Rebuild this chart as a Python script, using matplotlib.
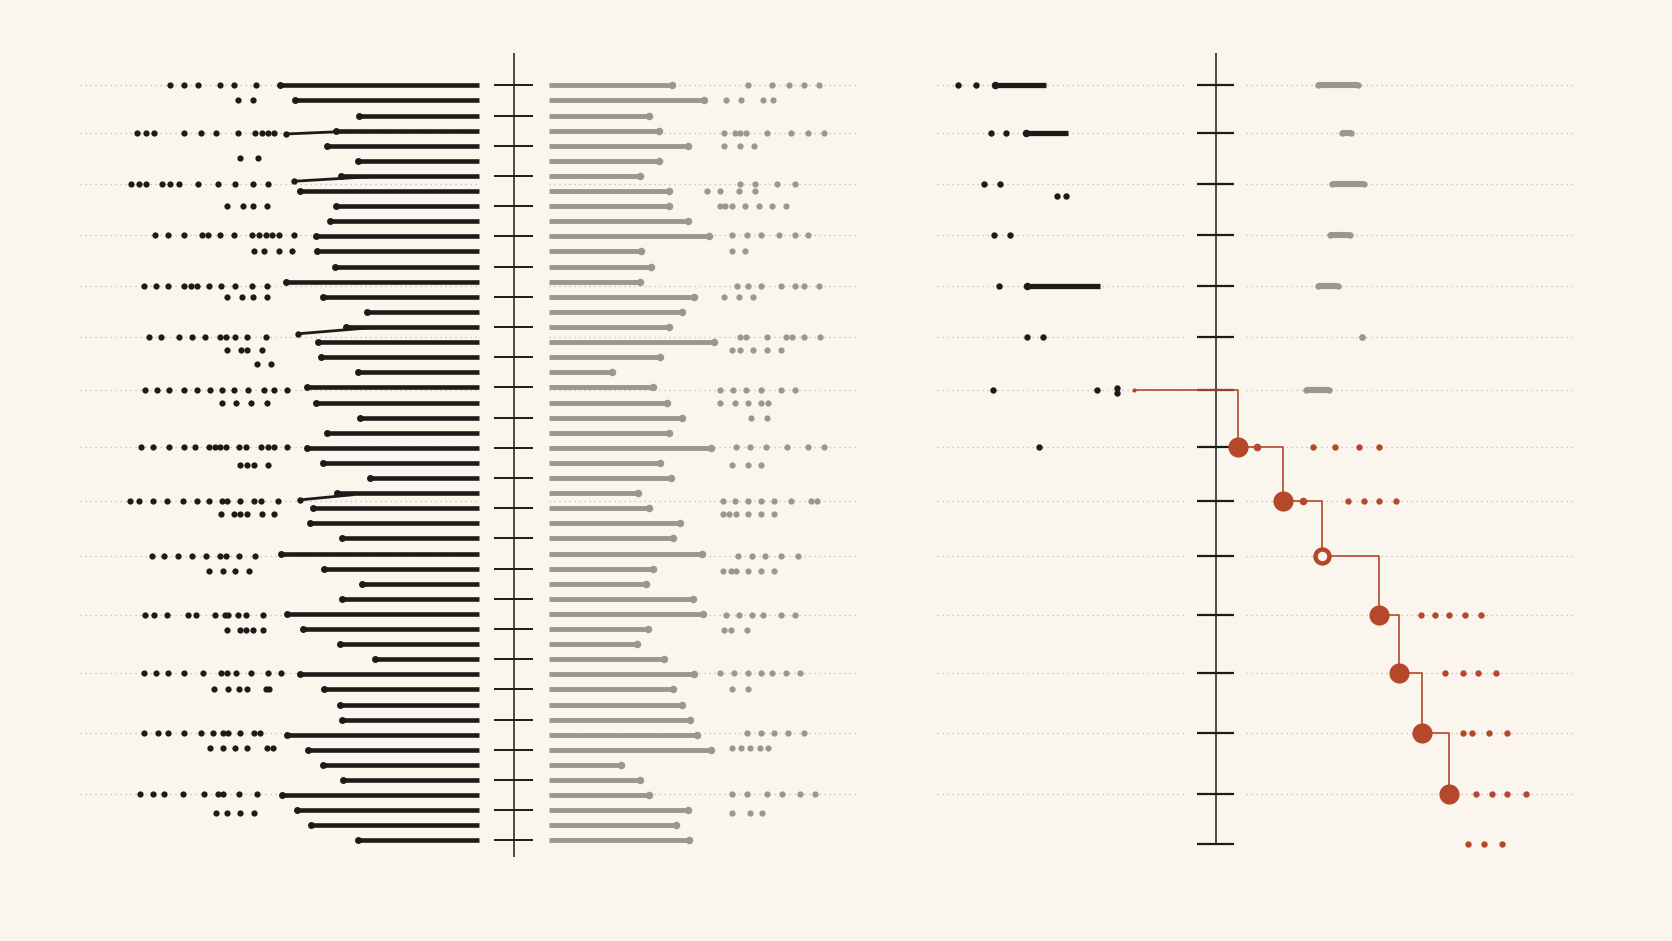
import numpy as np
import matplotlib
matplotlib.use("Agg")
import matplotlib.pyplot as plt

# ---------------- colours ----------------
BG = "#FAF6EE"
INK = "#1B1B19"
GREY = "#9A978F"
GRID = "#BDB9B0"
RUST = "#B5472B"

# ---------------- data: left panel ----------------
# 51 paired rows: length of the dark (left) bar and of the grey (right) bar
black_len = [219.2, 205.5, 145.7, 167.2, 175.6, 146.1, 162.3, 201.1, 167.2, 172.1,
             185.4, 184.4, 168.2, 213.8, 179.5, 137.8, 157.4, 183.9, 180.5, 146.1,
             193.7, 185.4, 144.7, 175.6, 193.7, 179.5, 134.9, 165.8, 188.8, 191.3,
             160.9, 218.7, 178.0, 142.7, 160.9, 212.4, 197.7, 162.8, 130.4, 201.1,
             178.0, 163.3, 160.9, 212.4, 192.7, 179.5, 159.9, 217.7, 203.1, 190.3,
             146.1]
gray_len = [148.2, 178.6, 126.6, 135.9, 162.9, 135.9, 117.8, 145.7, 145.7, 162.9,
            182.5, 118.7, 128.5, 117.8, 168.8, 158.0, 145.7, 187.4, 136.9, 91.7,
            130.0, 143.3, 158.0, 145.7, 184.9, 137.4, 147.2, 116.3, 127.1, 156.0,
            149.2, 176.6, 130.0, 123.6, 167.8, 177.6, 126.1, 115.8, 140.8, 168.8,
            149.2, 158.0, 165.3, 171.7, 184.9, 100.6, 117.8, 127.1, 162.9, 151.6,
            163.9]

# 14 group levels (shared by both panels) + bottom level of the right panel
group_y = [0.0, 3.17, 6.5, 9.89, 13.3, 16.68, 20.18, 23.97, 27.5, 31.18,
           35.05, 38.94, 42.88, 46.93]
bottom_y = 50.26

# dark dot clusters on each group level (distance left of centre)
black_dots = [
    [322.7, 309.5, 296.7, 276.1, 262.4, 242.3],
    [353.1, 344.8, 337.4, 309.0, 293.3, 279.5, 258.4, 243.2, 236.4, 230.5, 224.6],
    [359.5, 352.1, 344.8, 330.1, 322.7, 313.9, 296.7, 277.6, 261.9, 245.2, 231.0],
    [336.4, 324.7, 309.5, 292.3, 287.4, 275.6, 262.4, 245.7, 239.3, 232.9, 227.0, 220.7, 206.0],
    [347.2, 335.9, 324.7, 309.0, 303.1, 297.2, 285.9, 274.6, 261.9, 245.7, 231.5],
    [342.3, 331.0, 314.4, 302.1, 289.8, 276.1, 269.7, 261.9, 250.1, 232.9],
    [346.2, 335.0, 323.7, 309.9, 297.2, 284.9, 273.6, 262.4, 249.1, 234.4, 224.6, 213.3],
    [349.7, 338.4, 323.2, 309.9, 299.2, 285.9, 280.5, 275.6, 269.7, 257.5, 251.6, 237.3, 231.0, 224.6, 213.3],
    [360.5, 352.1, 338.9, 325.1, 310.4, 297.2, 285.9, 273.6, 268.7, 256.5, 244.2, 236.9, 221.2],
    [339.9, 328.6, 315.3, 302.1, 288.4, 276.1, 269.7, 257.5, 242.7],
    [346.2, 337.4, 325.1, 305.5, 298.2, 280.5, 271.2, 267.8, 258.9, 251.6, 235.4],
    [347.2, 335.9, 324.7, 309.5, 291.8, 275.1, 268.7, 260.4, 246.7, 231.0, 218.7],
    [347.2, 334.0, 324.2, 309.5, 293.3, 282.0, 272.7, 267.8, 256.5, 244.2, 238.3],
    [351.1, 338.4, 328.6, 310.4, 290.8, 277.6, 272.7, 257.9, 240.8],
]
# secondary dark clusters: (level, distances)
black_sub = [
    (1.0, [258.4, 244.7]),
    (4.82, [256.5, 240.3]),
    (8.0, [269.2, 254.0, 245.2, 231.5]),
    (11.0, [244.2, 234.4, 220.7, 208.4]),
    (14.0, [269.2, 255.5, 244.7, 231.5]),
    (17.5, [269.2, 256.0, 250.1, 236.4]),
    (18.48, [241.3, 227.5]),
    (21.0, [273.6, 260.9, 246.2, 231.5]),
    (25.16, [256.5, 250.6, 244.2, 230.5]),
    (28.4, [274.6, 262.4, 256.5, 250.6, 236.4, 224.6]),
    (32.14, [285.9, 272.7, 261.4, 248.1]),
    (36.07, [268.7, 256.5, 251.6, 245.2, 235.4]),
    (40.0, [281.0, 267.8, 257.5, 250.6, 232.9, 229.5]),
    (43.86, [284.9, 272.7, 261.4, 250.6, 232.0, 225.6]),
    (48.2, [279.5, 268.7, 256.5, 244.2]),
]
# grey dot clusters on each group level (distance right of centre)
gray_dots = [
    [219.3, 242.4, 258.1, 271.8, 286.5],
    [197.2, 207.0, 212.0, 217.8, 237.5, 260.0, 275.7, 290.4],
    [212.0, 225.7, 246.3, 263.5],
    [204.6, 218.3, 231.6, 248.7, 263.5, 275.7],
    [209.5, 219.3, 231.6, 250.2, 263.5, 271.8, 286.5],
    [212.0, 217.8, 237.5, 255.1, 261.0, 271.8, 287.0],
    [193.3, 205.6, 217.8, 231.6, 250.2, 263.5],
    [208.5, 221.8, 236.5, 256.1, 275.7, 290.4],
    [196.3, 207.0, 219.3, 231.6, 243.8, 260.0, 278.2, 284.0],
    [210.5, 223.2, 235.5, 250.2, 265.9],
    [198.7, 211.0, 223.2, 234.0, 250.2, 263.5],
    [193.3, 206.1, 219.3, 231.6, 242.4, 255.1, 267.9],
    [218.3, 231.6, 243.8, 257.1, 272.3],
    [204.6, 218.3, 237.5, 251.2, 268.4, 282.1],
]
gray_sub = [
    (1.0, [198.7, 212.9, 234.0, 242.9]),
    (4.0, [197.2, 212.0, 225.2]),
    (7.0, [181.0, 193.3, 211.0, 225.7]),
    (8.0, [193.3, 198.2, 204.6, 216.9, 230.1, 242.4, 255.1]),
    (11.0, [204.6, 216.9]),
    (14.0, [197.2, 211.0, 224.2]),
    (17.5, [204.6, 212.0, 224.2, 237.5, 250.2]),
    (21.0, [193.3, 207.0, 219.3, 231.6, 237.9]),
    (22.0, [222.7, 237.5]),
    (25.16, [204.6, 219.3, 231.6]),
    (28.4, [196.3, 202.1, 208.0, 219.3, 231.6, 243.8]),
    (32.14, [196.3, 203.1, 208.0, 219.3, 231.6, 243.8]),
    (36.07, [197.2, 203.6, 218.3]),
    (40.0, [204.6, 219.3]),
    (43.86, [204.6, 212.9, 221.8, 230.6, 237.9]),
    (48.2, [204.6, 221.8, 233.0]),
]
# thin links from a cluster into a bar: (level from, dist from, level to, dist to)
links = [
    (3.22, 213.8, 3.05, 158.0),
    (6.35, 206.0, 6.05, 135.0),
    (16.45, 202.5, 16.05, 135.0),
    (27.45, 201.0, 27.1, 150.0),
]

# ---------------- data: right panel ----------------
# dark dots left of the axis: (group index, offset, positions)
rp_black_dots = [
    (0, 0.0, [-241.6, -224.8]),
    (1, 0.0, [-210.5, -196.3]),
    (2, 0.0, [-217.3, -201.8]),
    (2, 0.8, [-148.6, -140.2]),
    (3, 0.0, [-208.0, -192.5]),
    (4, 0.0, [-203.4]),
    (5, 0.0, [-177.1, -161.5]),
    (6, 0.0, [-208.8, -110.9]),
    (6, -0.15, [-92.1]),
    (6, 0.17, [-92.1]),
    (7, 0.0, [-165.3]),
]
rp_black_bars = [(0, -206.8, -158.6), (1, -177.5, -138.2), (4, -176.6, -108.8)]
rp_gray_bars = [(0, 96.3, 133.2), (1, 118.6, 126.9), (2, 109.3, 139.4),
                (3, 107.2, 126.1), (4, 96.0, 114.4), (5, 137.4, 137.4),
                (6, 85.1, 106.0)]
# highlighted staircase (group 6 .. 13)
step_group = [6, 7, 8, 9, 10, 11, 12, 13]
step_x = [-76.1, 21.0, 63.2, 100.1, 152.9, 172.2, 193.9, 219.0]
step_open = 9            # group with the hollow marker
satellites = [(7, 39.0), (8, 81.7)]
red_dots = [
    (7, [91.3, 112.3, 134.4, 153.3]),
    (8, [124.0, 138.7, 152.9, 169.6]),
    (10, [193.0, 205.6, 219.0, 233.6, 249.2]),
    (11, [214.8, 232.4, 246.2, 263.0]),
    (12, [232.4, 240.8, 256.7, 273.4]),
    (13, [244.1, 259.6, 273.4, 291.0]),
    (14, [236.6, 251.7, 268.4]),
]

# ---------------- figure ----------------
fig = plt.figure(figsize=(16.72, 9.41), dpi=100, facecolor=BG)
Y_TOP, Y_BOT = -5.651, 56.655
axL = fig.add_axes([0.0, 0.0, 1.0, 1.0])
axR = fig.add_axes([0.0, 0.0, 1.0, 1.0])
for ax in (axL, axR):
    ax.set_ylim(Y_BOT, Y_TOP)
    ax.axis("off")
    ax.patch.set_alpha(0)
axL.set_xlim(-482, 1086)
axR.set_xlim(-1140, 428)

DOT = (0, (1, 3))
GAP = 33
MS = 4.5

# ----- left panel -----
rows = np.arange(len(black_len))
bl = np.array(black_len)
gl = np.array(gray_len)
axL.hlines(group_y, -407, -GAP, colors=GRID, linewidth=0.9, linestyles=DOT, zorder=1)
axL.hlines(group_y, GAP, 323, colors=GRID, linewidth=0.9, linestyles=DOT, zorder=1)

axL.vlines(0, -2.12, 51.07, colors=INK, linewidth=1.1, zorder=2)
axL.hlines(rows[::2], -19, 18, colors=INK, linewidth=1.4, zorder=2)

axL.hlines(rows, -bl, -GAP, colors=INK, linewidth=3.3, capstyle="butt", zorder=3)
axL.plot(-bl, rows, "o", ms=5.0, color=INK, mec="none", zorder=4)
axL.hlines(rows, GAP, gl, colors=GREY, linewidth=3.5, capstyle="butt", zorder=3)
axL.plot(gl, rows, "o", ms=5.4, color=GREY, mec="none", zorder=4)

for y, d in zip(group_y, black_dots):
    axL.plot(-np.array(d), [y] * len(d), "o", ms=MS, color=INK, mec="none", zorder=4)
for y, d in black_sub:
    axL.plot(-np.array(d), [y] * len(d), "o", ms=MS, color=INK, mec="none", zorder=4)
for y, d in zip(group_y, gray_dots):
    axL.plot(d, [y] * len(d), "o", ms=MS, color=GREY, mec="none", zorder=4)
for y, d in gray_sub:
    axL.plot(d, [y] * len(d), "o", ms=MS, color=GREY, mec="none", zorder=4)
for y0, m0, y1, m1 in links:
    axL.plot([-m0, -m1], [y0, y1], color=INK, linewidth=2.0, zorder=3.5,
             solid_capstyle="butt")
    axL.plot([-m0], [y0], "o", ms=4.6, color=INK, mec="none", zorder=4)

# ----- right panel -----
levels = group_y + [bottom_y]
axR.hlines(group_y, -261.3, -30, colors=GRID, linewidth=0.9, linestyles=DOT, zorder=1)
axR.hlines(group_y, 28.5, 336, colors=GRID, linewidth=0.9, linestyles=DOT, zorder=1)
axR.vlines(0, -2.12, bottom_y, colors=INK, linewidth=1.1, zorder=2)
axR.hlines(levels, -17.5, 17.5, colors=INK, linewidth=1.6, zorder=2)

for g, off, xs in rp_black_dots:
    axR.plot(xs, [levels[g] + off] * len(xs), "o", ms=4.6, color=INK, mec="none", zorder=4)
for g, a, b in rp_black_bars:
    axR.plot([a, b], [levels[g]] * 2, color=INK, linewidth=3.8,
             solid_capstyle="butt", zorder=3)
    axR.plot([a], [levels[g]], "o", ms=5.4, color=INK, mec="none", zorder=4)
for g, a, b in rp_gray_bars:
    axR.plot([a, b], [levels[g]] * 2, color=GREY, linewidth=4.4,
             solid_capstyle="butt", zorder=3)
    axR.plot([a, b], [levels[g]] * 2, "o", ms=4.6, color=GREY, mec="none", zorder=3)

sy = [levels[g] for g in step_group]
axR.plot(step_x, sy, drawstyle="steps-post", color=RUST, linewidth=1.2, zorder=5)
axR.plot(step_x[:1], sy[:1], "o", ms=3.0, color=RUST, mec="none", zorder=6)
for g, x in zip(step_group[1:], step_x[1:]):
    if g == step_open:
        axR.plot([x], [levels[g]], "o", ms=10, mfc=BG, mec=RUST, mew=3.2, zorder=6)
    else:
        axR.plot([x], [levels[g]], "o", ms=14.5, color=RUST, mec="none", zorder=6)
for g, x in satellites:
    axR.plot([x], [levels[g]], "o", ms=5.5, color=RUST, mec="none", zorder=6)
for g, xs in red_dots:
    axR.plot(xs, [levels[g]] * len(xs), "o", ms=4.6, color=RUST, mec="none", zorder=6)

fig.savefig("out.png", dpi=100, facecolor=BG)
